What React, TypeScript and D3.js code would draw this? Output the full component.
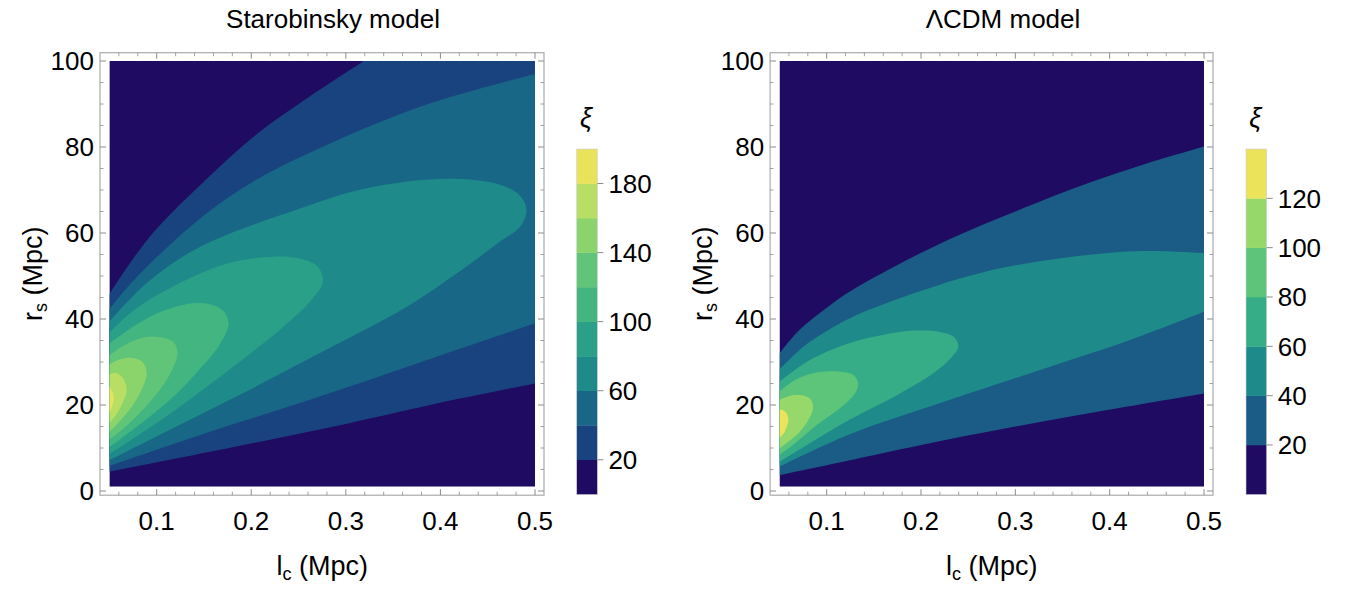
import React from "react";
import * as d3 from "d3";

type P = [number, number];

// ---------- axes / ticks ----------
const lcTicks = [0.1, 0.2, 0.3, 0.4, 0.5];
const lcTickLabels = ["0.1", "0.2", "0.3", "0.4", "0.5"];
const rsTicks = [0, 20, 40, 60, 80, 100];
const rsTickLabels = ["0", "20", "40", "60", "80", "100"];

// ---------- colour levels ----------
const staroBandEdges = [0, 20, 40, 60, 80, 100, 120, 140, 160, 180, 200];
const staroColors = ["#1f0b61", "#19437f", "#186787", "#1e8a89", "#2ba088", "#43b581", "#60c578", "#8bd46c", "#b8df63", "#e9e35b"];
const staroBarTicks = [20, 60, 100, 140, 180];

const lcdmBandEdges = [0, 20, 40, 60, 80, 100, 120, 140];
const lcdmColors = ["#1f0b61", "#1a5c86", "#1f8a8a", "#36ad86", "#5dc57a", "#97d86a", "#ebe45b"];
const lcdmBarTicks = [20, 40, 60, 80, 100, 120];

// ---------- Starobinsky contour boundaries (lc, rs) ----------
const staro20Upper: P[] = [[0.05, 45.8], [0.075, 54], [0.1, 61], [0.15, 72], [0.206, 83], [0.26, 91.5], [0.319, 100], [0.34, 103]];
const staro20Lower: P[] = [[0.05, 4.5], [0.183, 10.3], [0.3, 15.6], [0.414, 21.2], [0.5, 25]];
const staro40Upper: P[] = [[0.05, 42.3], [0.08, 50], [0.146, 63.4], [0.2, 71.7], [0.268, 79.3], [0.38, 89.5], [0.5, 97]];
const staro40Lower: P[] = [[0.05, 5.8], [0.15, 13.3], [0.262, 21.2], [0.38, 30], [0.5, 39]];
const staro60: P[] = [[0.05, 7.2], [0.1, 12.7], [0.181, 21.6], [0.27, 31.8], [0.365, 42.9], [0.43, 52.6], [0.463, 58], [0.4845, 61.5], [0.491, 65.3], [0.4845, 68.6], [0.463, 71.2], [0.407, 72.6], [0.322, 70.4], [0.2516, 65.7], [0.146, 56.8], [0.09, 48.5], [0.05, 39.4]];
const staro80: P[] = [[0.05, 8.6], [0.1, 15.8], [0.146, 23.1], [0.199, 32], [0.234, 38.2], [0.262, 44], [0.2757, 48.7], [0.27, 52.2], [0.25, 54.1], [0.223, 54.5], [0.18, 53.2], [0.146, 50.6], [0.1, 45.5], [0.07, 41], [0.05, 36.8]];
const staro100: P[] = [[0.05, 10.2], [0.075, 14.3], [0.1, 18.6], [0.125, 23.5], [0.146, 28.5], [0.165, 33.5], [0.176, 39], [0.17, 42], [0.155, 43.5], [0.13, 43.4], [0.1, 41.3], [0.075, 38.2], [0.05, 34.3]];
const staro120: P[] = [[0.05, 11.9], [0.07, 15.5], [0.09, 20], [0.108, 25], [0.119, 29.5], [0.122, 32.4], [0.117, 34.8], [0.098, 35.9], [0.08, 35.3], [0.065, 33.8], [0.05, 31.6]];
const staro140: P[] = [[0.05, 13.7], [0.062, 16.5], [0.075, 20], [0.085, 24], [0.0895, 27.5], [0.085, 30], [0.072, 31], [0.06, 30.5], [0.05, 29.4]];
const staro160: P[] = [[0.05, 15.8], [0.058, 18], [0.065, 21], [0.0683, 23.5], [0.065, 26], [0.058, 27.4], [0.05, 27.2]];
const staro180: P[] = [[0.05, 18.1], [0.053, 19.8], [0.0545, 21.5], [0.053, 23.2], [0.05, 24.3]];

// ---------- ΛCDM contour boundaries (lc, rs) ----------
const lcdm20Upper: P[] = [[0.05, 32], [0.07, 37.2], [0.1, 42.6], [0.1246, 46.4], [0.17, 52], [0.2307, 58.6], [0.3, 65], [0.3774, 71.6], [0.44, 76.2], [0.5, 80.1]];
const lcdm20Lower: P[] = [[0.05, 3.7], [0.13, 7.4], [0.2272, 11.9], [0.36, 17.4], [0.5, 22.7]];
const lcdm40Upper: P[] = [[0.05, 28.3], [0.075, 33.5], [0.1, 37.2], [0.1246, 40.2], [0.1954, 46.2], [0.266, 50.9], [0.35, 54.2], [0.4357, 55.8], [0.5, 55.3]];
const lcdm40Lower: P[] = [[0.05, 5.7], [0.1246, 13.2], [0.2307, 21.2], [0.3368, 28.9], [0.42, 35], [0.5, 41.7]];
const lcdm60: P[] = [[0.05, 6.8], [0.08, 10.8], [0.1246, 16.6], [0.1777, 22.7], [0.213, 27.4], [0.232, 31], [0.2396, 33.6], [0.235, 35.8], [0.22, 37], [0.1918, 37.3], [0.1618, 36.4], [0.1246, 34.4], [0.08, 30.2], [0.05, 25.4]];
const lcdm80: P[] = [[0.05, 8.4], [0.0664, 11.1], [0.0876, 15], [0.116, 19.6], [0.13, 22.7], [0.1335, 25], [0.1283, 27], [0.1123, 27.8], [0.0876, 27.5], [0.0664, 25.8], [0.05, 23.1]];
const lcdm100: P[] = [[0.05, 9.9], [0.0594, 11.5], [0.07, 13.4], [0.0805, 16.5], [0.0855, 19.2], [0.0834, 21.2], [0.077, 22.1], [0.0629, 22.2], [0.05, 21.2]];
const lcdm120: P[] = [[0.05, 12.3], [0.055, 13.6], [0.058, 15.2], [0.0594, 16.5], [0.0585, 17.6], [0.055, 18.6], [0.05, 19]];

type Contour = { level: number; upper?: P[]; lower?: P[]; ring?: P[] };

const staroContours: Contour[] = [
  { level: 20, upper: staro20Upper, lower: staro20Lower },
  { level: 40, upper: staro40Upper, lower: staro40Lower },
  { level: 60, ring: staro60 },
  { level: 80, ring: staro80 },
  { level: 100, ring: staro100 },
  { level: 120, ring: staro120 },
  { level: 140, ring: staro140 },
  { level: 160, ring: staro160 },
  { level: 180, ring: staro180 },
];
const lcdmContours: Contour[] = [
  { level: 20, upper: lcdm20Upper, lower: lcdm20Lower },
  { level: 40, upper: lcdm40Upper, lower: lcdm40Lower },
  { level: 60, ring: lcdm60 },
  { level: 80, ring: lcdm80 },
  { level: 100, ring: lcdm100 },
  { level: 120, ring: lcdm120 },
];

const FONT = "'Liberation Sans', Arial, Helvetica, sans-serif";
const FRAME = "#ababab";
const TICK = "#8c8c8c";
const TICK_FS = 26;
const TITLE_FS = 26;
const AXIS_FS = 27;

function regionPath(c: Contour, x: d3.ScaleLinear<number, number>, y: d3.ScaleLinear<number, number>): string {
  const line = d3
    .line<P>()
    .x((d) => x(d[0]))
    .y((d) => y(d[1]))
    .curve(d3.curveCatmullRom.alpha(0.5));
  if (c.ring) return (line(c.ring) || "") + "Z";
  const up = c.upper as P[];
  const lo = c.lower as P[];
  const ue = up[up.length - 1];
  const le = lo[lo.length - 1];
  const farX = x(0.6);
  const lower = (line([...lo].reverse()) || "").replace(/^M/, "L");
  return (line(up) || "") + `L${farX},${y(ue[1])}L${farX},${y(le[1])}` + lower + "Z";
}

type PanelProps = {
  id: string;
  title: string;
  titleX: number;
  x0: number;
  x1: number;
  contours: Contour[];
  colors: string[];
};

function Panel({ id, title, titleX, x0, x1, contours, colors }: PanelProps) {
  const x = d3.scaleLinear().domain([0.05, 0.5]).range([x0, x1]);
  const y = d3.scaleLinear().domain([0, 100]).range([491, 61]);
  const pxL = x(0.05), pxR = x(0.5), pyT = y(100), pyB = y(1);
  const fL = pxL - 9.4, fR = pxR + 9, fT = pyT - 8.3, fB = pyB + 8.5;
  const xMinor = d3.range(0.06, 0.5, 0.02).filter((v) => lcTicks.every((t) => Math.abs(t - v) > 1e-6));
  const yMinor = d3.range(5, 100, 5).filter((v) => v % 20 !== 0);
  const maj = 6, mnr = 3.5;
  const cx = (pxL + pxR) / 2;
  const cy = (pyT + pyB) / 2;
  return (
    <g>
      <defs>
        <clipPath id={`clip-${id}`}>
          <rect x={pxL} y={pyT} width={pxR - pxL} height={pyB - pyT} />
        </clipPath>
      </defs>
      <text x={titleX} y={28} textAnchor="middle" fontFamily={FONT} fontSize={TITLE_FS} fill="#000">
        {title}
      </text>
      <g clipPath={`url(#clip-${id})`}>
        <rect x={pxL} y={pyT} width={pxR - pxL} height={pyB - pyT} fill={colors[0]} />
        {contours.map((c) => (
          <path key={c.level} d={regionPath(c, x, y)} fill={colors[c.level / 20]} />
        ))}
      </g>
      <rect x={fL} y={fT} width={fR - fL} height={fB - fT} fill="none" stroke={FRAME} strokeWidth={1.2} />
      {lcTicks.map((t) => (
        <g key={`xt${t}`}>
          <line x1={x(t)} x2={x(t)} y1={fB} y2={fB - maj} stroke={TICK} />
          <line x1={x(t)} x2={x(t)} y1={fT} y2={fT + maj} stroke={TICK} />
        </g>
      ))}
      {xMinor.map((t) => (
        <g key={`xm${t}`}>
          <line x1={x(t)} x2={x(t)} y1={fB} y2={fB - mnr} stroke={TICK} strokeWidth={0.8} />
          <line x1={x(t)} x2={x(t)} y1={fT} y2={fT + mnr} stroke={TICK} strokeWidth={0.8} />
        </g>
      ))}
      {rsTicks.map((t) => (
        <g key={`yt${t}`}>
          <line x1={fL} x2={fL + maj} y1={y(t)} y2={y(t)} stroke={TICK} />
          <line x1={fR} x2={fR - maj} y1={y(t)} y2={y(t)} stroke={TICK} />
        </g>
      ))}
      {yMinor.map((t) => (
        <g key={`ym${t}`}>
          <line x1={fL} x2={fL + mnr} y1={y(t)} y2={y(t)} stroke={TICK} strokeWidth={0.8} />
          <line x1={fR} x2={fR - mnr} y1={y(t)} y2={y(t)} stroke={TICK} strokeWidth={0.8} />
        </g>
      ))}
      {lcTicks.map((t, i) => (
        <text key={`xl${t}`} x={x(t)} y={530} textAnchor="middle" fontFamily={FONT} fontSize={TICK_FS} fill="#000">
          {lcTickLabels[i]}
        </text>
      ))}
      {rsTicks.map((t, i) => (
        <text key={`yl${t}`} x={fL - 6} y={y(t) + 9.2} textAnchor="end" fontFamily={FONT} fontSize={TICK_FS} fill="#000">
          {rsTickLabels[i]}
        </text>
      ))}
      <text x={cx} y={575} textAnchor="middle" fontFamily={FONT} fontSize={AXIS_FS} fill="#000">
        l<tspan fontSize={18} dy={5}>c</tspan>
        <tspan dy={-5}> (Mpc)</tspan>
      </text>
      <text
        transform={`translate(${fL - 58},${cy}) rotate(-90)`}
        textAnchor="middle"
        fontFamily={FONT}
        fontSize={AXIS_FS}
        fill="#000"
      >
        r<tspan fontSize={18} dy={5}>s</tspan>
        <tspan dy={-5}> (Mpc)</tspan>
      </text>
    </g>
  );
}

type BarProps = { bx: number; edges: number[]; colors: string[]; ticks: number[] };

function ColorBar({ bx, edges, colors, ticks }: BarProps) {
  const bw = 20.7;
  const s = d3.scaleLinear().domain([edges[0], edges[edges.length - 1]]).range([494.3, 149]);
  return (
    <g>
      <text x={bx + bw / 2 - 1} y={127} textAnchor="middle" fontFamily={FONT} fontSize={27} fontStyle="italic" fill="#000">
        ξ
      </text>
      {colors.map((c, i) => (
        <rect key={i} x={bx} y={s(edges[i + 1])} width={bw} height={s(edges[i]) - s(edges[i + 1]) + 0.3} fill={c} />
      ))}
      <rect x={bx} y={s(edges[edges.length - 1])} width={bw} height={s(edges[0]) - s(edges[edges.length - 1])} fill="none" stroke="#d0d0d0" strokeWidth={0.6} />
      {ticks.map((t) => (
        <g key={t}>
          <line x1={bx + bw} x2={bx + bw + 6} y1={s(t)} y2={s(t)} stroke={TICK} />
          <text x={bx + bw + 11} y={s(t) + 9.2} fontFamily={FONT} fontSize={TICK_FS} fill="#000">
            {t}
          </text>
        </g>
      ))}
    </g>
  );
}

export default function App() {
  return (
    <svg
      width={1356}
      height={589}
      style={{ position: "absolute", left: 0, top: 0, background: "#fff", display: "block" }}
    >
      <Panel id="staro" title="Starobinsky model" titleX={333} x0={109.4} x1={535} contours={staroContours} colors={staroColors} />
      <ColorBar bx={576.7} edges={staroBandEdges} colors={staroColors} ticks={staroBarTicks} />
      <Panel id="lcdm" title="ΛCDM model" titleX={1003} x0={779.5} x1={1204} contours={lcdmContours} colors={lcdmColors} />
      <ColorBar bx={1246} edges={lcdmBandEdges} colors={lcdmColors} ticks={lcdmBarTicks} />
    </svg>
  );
}
